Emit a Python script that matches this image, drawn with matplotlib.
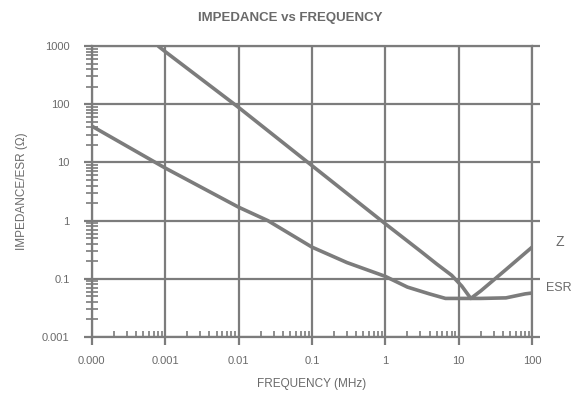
import matplotlib
matplotlib.use("Agg")
import matplotlib.pyplot as plt
from matplotlib.ticker import LogLocator, FixedLocator, NullFormatter

plt.rcParams['font.family'] = ['Liberation Sans', 'DejaVu Sans']

# Data (frequency in MHz, impedance in ohms)
z_freq = [0.0008, 0.001, 0.01, 0.1, 1, 3, 5, 8, 11, 14.6, 20, 44, 100]
z_vals = [1000, 800, 88, 8.8, 0.88, 0.3, 0.18, 0.115, 0.075, 0.046, 0.062, 0.144, 0.35]

esr_freq = [0.0001, 0.001, 0.01, 0.025, 0.1, 0.3, 1, 2, 4, 6.6, 20, 44, 60, 80, 100]
esr_vals = [42, 8, 1.7, 1.0, 0.35, 0.19, 0.11, 0.072, 0.055, 0.046, 0.046, 0.047, 0.051, 0.055, 0.057]

x_ticks = [0.0001, 0.001, 0.01, 0.1, 1, 10, 100]
x_labels = ["0.000", "0.001", "0.01", "0.1", "1", "10", "100"]
y_ticks = [0.01, 0.1, 1, 10, 100, 1000]
y_labels = ["0.001", "0.1", "1", "10", "100", "1000"]

GRAY = "#7c7c7c"
TXT = "#6a6a6a"

fig = plt.figure(figsize=(5.74, 4.07), dpi=100)
ax = fig.add_axes([0.160, 0.172, 0.767, 0.715])
ax.set_xscale('log')
ax.set_yscale('log')
ax.set_xlim(0.0001, 100)
ax.set_ylim(0.01, 1000)

ax.plot(z_freq, z_vals, color=GRAY, lw=2.6, solid_capstyle='butt', zorder=3, clip_on=True)
ax.plot(esr_freq, esr_vals, color=GRAY, lw=2.6, solid_capstyle='butt', zorder=3, clip_on=True)

ax.xaxis.set_major_locator(FixedLocator(x_ticks))
ax.yaxis.set_major_locator(FixedLocator(y_ticks))
ax.set_xticklabels(x_labels)
ax.set_yticklabels(y_labels)
ax.xaxis.set_minor_locator(LogLocator(base=10, subs=range(2, 10), numticks=20))
ax.yaxis.set_minor_locator(LogLocator(base=10, subs=range(2, 10), numticks=20))
ax.xaxis.set_minor_formatter(NullFormatter())
ax.yaxis.set_minor_formatter(NullFormatter())

ax.grid(True, which='major', color=GRAY, lw=1.6)
for s in ax.spines.values():
    s.set_color(GRAY)
    s.set_linewidth(1.6)

ax.tick_params(which='major', length=6, width=1.6, color=GRAY, labelcolor=TXT,
               labelsize=8, direction='out', right=True, labelright=False)
ax.tick_params(axis='x', which='major', pad=8)
ax.tick_params(axis='y', which='major', pad=10)
ax.tick_params(axis='x', which='minor', direction='in', length=4, width=1.2, color=GRAY)
ax.tick_params(axis='y', which='minor', direction='inout', length=8, width=1.2, color=GRAY, right=False)

fig.text(0.505, 0.955, "IMPEDANCE vs FREQUENCY", ha='center', va='center',
         fontsize=9.5, fontweight='bold', color=TXT)
ax.set_xlabel("FREQUENCY (MHz)", fontsize=8.5, color=TXT, labelpad=8)
ax.set_ylabel("IMPEDANCE/ESR (Ω)", fontsize=8.5, color=TXT, labelpad=10)

fig.text(555 / 574, 1 - 242 / 407, "Z", ha='left', va='center', fontsize=10, color=TXT)
fig.text(546 / 574, 1 - 288 / 407, "ESR", ha='left', va='center', fontsize=9, color=TXT)

fig.savefig("out.png", dpi=100)
